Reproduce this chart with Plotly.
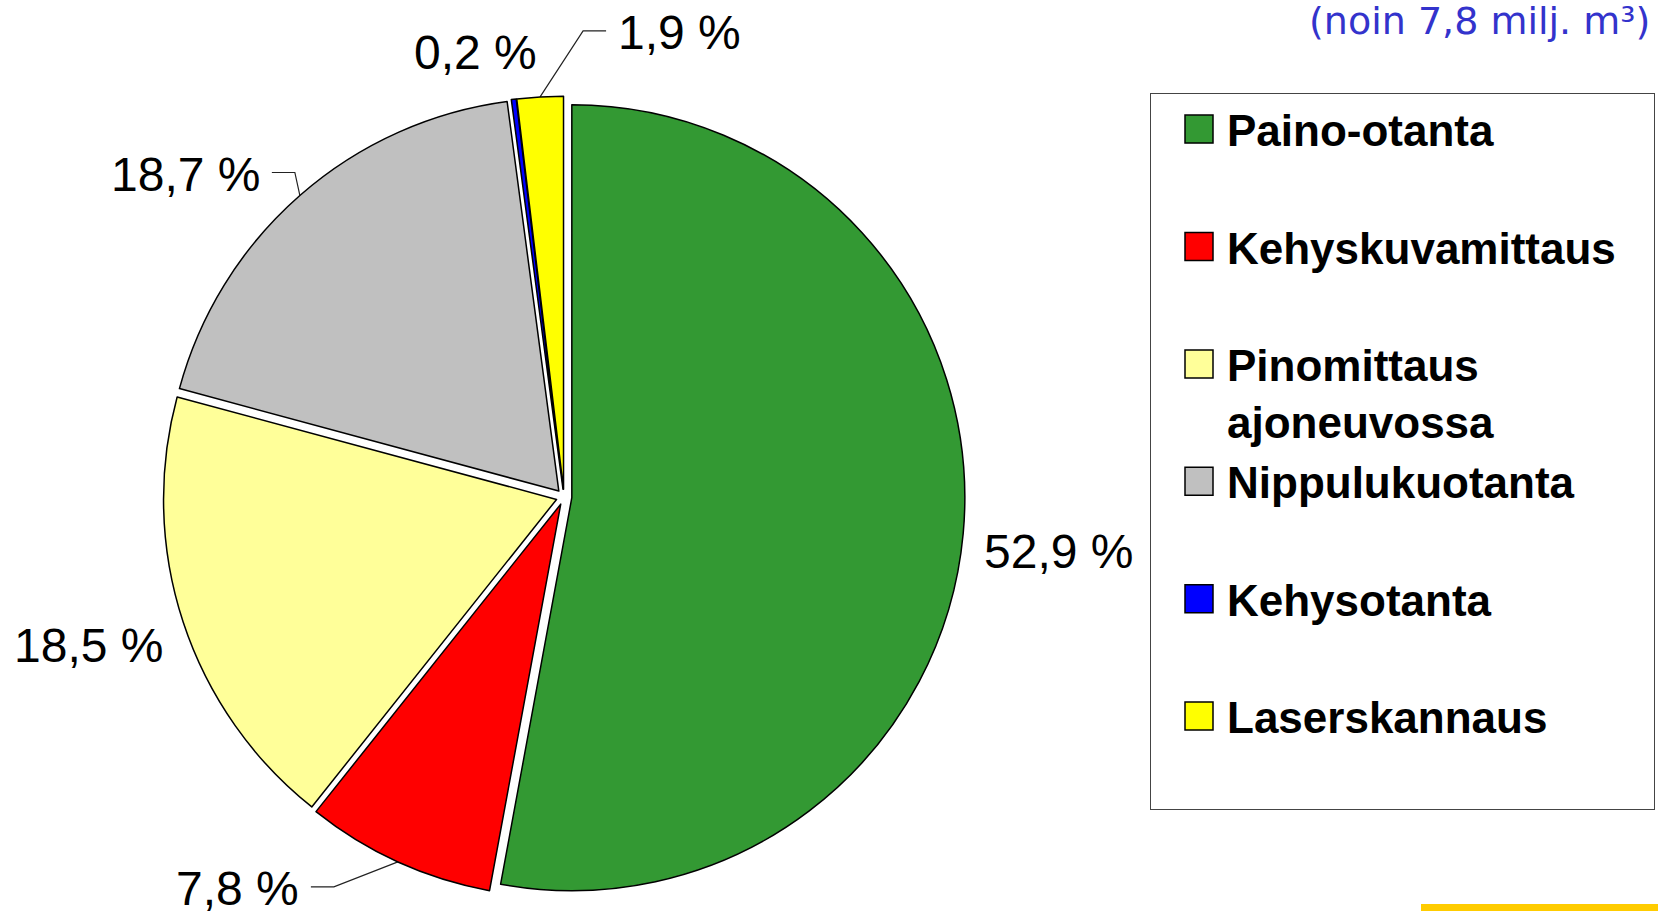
import math
import plotly.graph_objects as go

# ---------------- data ----------------
categories = ["Paino-otanta", "Kehyskuvamittaus", "Pinomittaus<br>ajoneuvossa",
              "Nippulukuotanta", "Kehysotanta", "Laserskannaus"]
shares = [52.9, 7.8, 18.5, 18.7, 0.2, 1.9]
colors = ["#339933", "#FF0000", "#FFFF99", "#C0C0C0", "#0000FF", "#FFFF00"]
title_text = "(noin 7,8 milj. m³)"

# ---------------- layout constants ----------------
W, H = 1658, 911
cx, cy, r, pull = 564, 497, 393, 0.02      # pie centre / radius in px
# label anchor offsets from slice edge point (px), anchor side, leader line flag
label_offsets = [(19, 18), (-97, 27), (-18, 23), (-38, -21), (-38, -47), (76, -64)]
label_anchor = ["left", "right", "right", "right", "center", "left"]
label_leader = [False, True, False, True, False, True]

half = r * (1 + pull)
domain_x = [(cx - half) / W, (cx + half) / W]
domain_y = [1 - (cy + half) / H, 1 - (cy - half) / H]

# legend entries padded to 2 lines for spacing
legend_labels = [c + "<br>\u00a0" * (2 - (c.count("<br>") + 1)) for c in categories]

fig = go.Figure()

fig.add_trace(go.Pie(
    labels=legend_labels, values=shares, sort=False, direction="clockwise",
    rotation=0, pull=pull, textinfo="none",
    customdata=[c.replace("<br>", " ") for c in categories],
    hovertemplate="%{customdata}: %{value} %<extra></extra>",
    marker=dict(colors=colors, line=dict(color="black", width=1.5)),
    domain=dict(x=domain_x, y=domain_y), showlegend=True,
))

# labels and leader lines computed from slice angles
total = sum(shares)
cum = 0.0
annotations = []
for i, v in enumerate(shares):
    mid = 2 * math.pi * (cum + v / 2) / total
    cum += v
    ex = cx + math.sin(mid) * r * (1 + pull)
    ey = cy - math.cos(mid) * r * (1 + pull)
    ax, ay = ex + label_offsets[i][0], ey + label_offsets[i][1]
    txt = f"{v:.1f}".replace(".", ",") + " %"
    annotations.append(dict(
        x=ax, y=ay, xref="x", yref="y", text=txt, showarrow=False,
        xanchor=label_anchor[i], yanchor="middle",
        font=dict(family="Liberation Sans", size=48, color="black"),
    ))
    if label_leader[i]:
        sgn = 1 if label_anchor[i] == "right" else -1
        fig.add_trace(go.Scatter(
            x=[ex, ax + sgn * 33, ax + sgn * 10], y=[ey, ay - 2, ay - 2],
            mode="lines", line=dict(color="#222222", width=1.2),
            showlegend=False, hoverinfo="skip",
        ))

# partial title at top right
annotations.append(dict(
    x=1652, y=21, xref="x", yref="y", text=title_text, showarrow=False,
    xanchor="right", yanchor="middle",
    font=dict(family="DejaVu Sans", size=38, color="#3333CC"),
))

fig.update_layout(
    width=W, height=H, autosize=False,
    margin=dict(l=0, r=0, t=0, b=0),
    paper_bgcolor="white", plot_bgcolor="rgba(0,0,0,0)",
    xaxis=dict(range=[0, W], visible=False, domain=[0, 1], fixedrange=True),
    yaxis=dict(range=[H, 0], visible=False, domain=[0, 1], fixedrange=True),
    annotations=annotations,
    legend=dict(x=1150 / W, y=1 - 93 / H, xanchor="left", yanchor="top",
                bgcolor="white", bordercolor="#444444", borderwidth=1,
                font=dict(family="Liberation Sans", size=44, color="black", weight="bold"),
                valign="top", traceorder="normal", itemwidth=66),
    shapes=[dict(type="rect", xref="paper", yref="paper", x0=1421 / W, x1=1,
                 y0=0, y1=7 / H, fillcolor="#FFCC00", line=dict(width=0), layer="above")],
    showlegend=True,
)

post = """
document.body.style.margin = '0';
var gd = document.getElementById('{plot_id}');
gd.querySelectorAll('path.legendpie').forEach(function(p){
  p.setAttribute('d','M24,14H-4V-14H24Z');
});
gd.querySelectorAll('.legend rect.bg').forEach(function(b){
  b.setAttribute('width', 504);
});
gd.querySelectorAll('clipPath').forEach(function(c){
  if ((c.id || '').indexOf('legend') >= 0) {
    c.querySelectorAll('rect').forEach(function(r){ r.setAttribute('width', 506); });
  }
});
"""

fig.write_html("out.html", post_script=post, config={"displayModeBar": False})
